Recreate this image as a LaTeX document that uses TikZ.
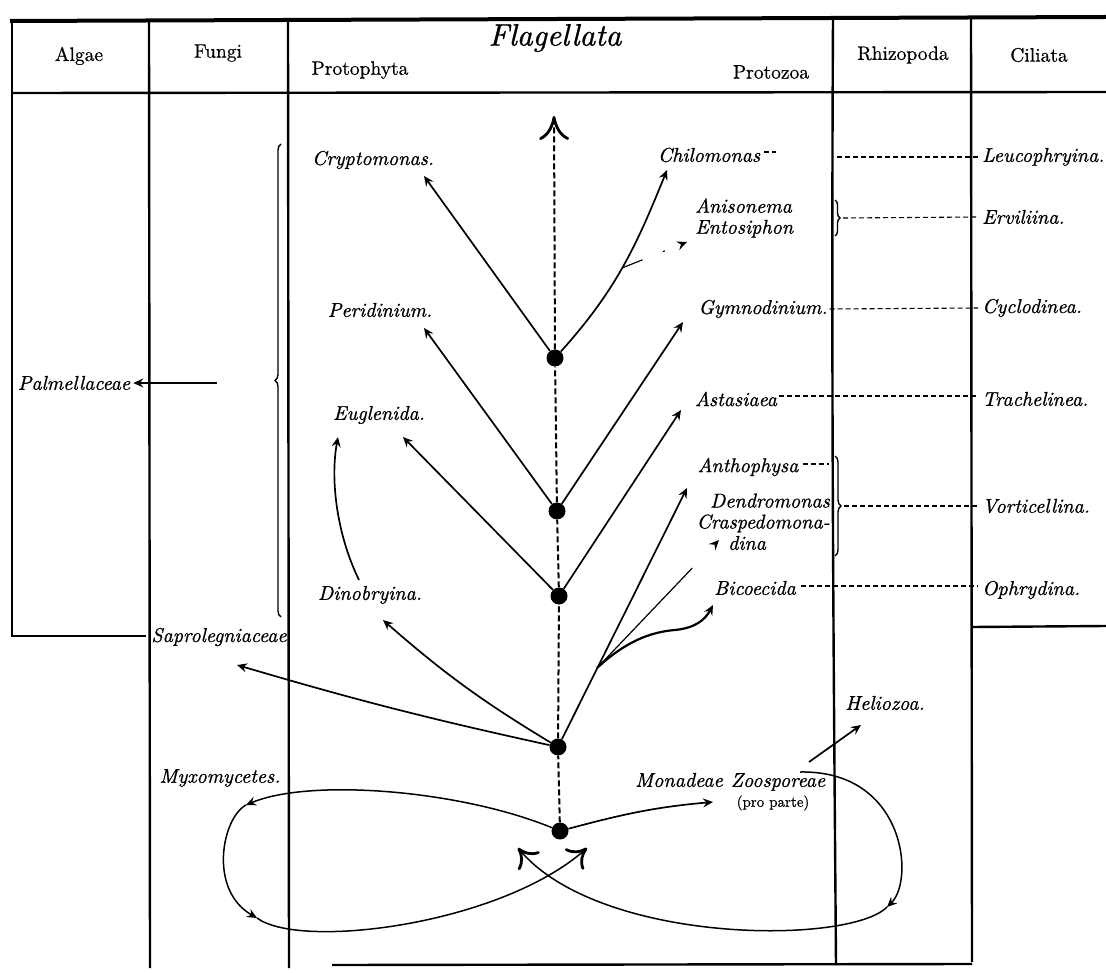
\documentclass[tikz,border=0pt]{standalone}
\usepackage{fontspec}
\setmainfont{lmroman10-regular.otf}[
  ItalicFont=lmroman10-italic.otf,
  BoldFont=lmroman10-bold.otf,
  UprightFeatures={FakeBold=0.6},
  ItalicFeatures={FakeBold=0.9}]
\usetikzlibrary{arrows.meta,decorations.pathreplacing}
\begin{document}
\begin{tikzpicture}[x=1pt,y=-1pt,
  lab/.style={font=\fontsize{20}{21}\selectfont\itshape, inner sep=0pt},
  head/.style={font=\fontsize{19.5}{21}\selectfont, inner sep=0pt},
  rule/.style={line width=2.4pt},
  tdot/.style={circle, fill=black, minimum size=17pt, inner sep=0pt},
  smalltip/.style={-{Stealth[length=10pt,width=9pt,inset=3.5pt]}},
  branch/.style={line width=1.7pt, smalltip},
  spine/.style={line width=2pt, dash pattern=on 6pt off 3pt},
  leader/.style={line width=1.1pt, dash pattern=on 5pt off 3pt},
  loopl/.style={line width=1.5pt},
  bigtip/.style={-{Computer Modern Rightarrow[length=24pt,width=30pt,line width=2.8pt]}},
  looptip/.style={-{Computer Modern Rightarrow[length=18pt,width=28pt,line width=2.8pt]}},
  brc/.style={decorate, decoration={brace, amplitude=6pt}, line width=1.4pt}
]
\fill[white] (0,0) rectangle (1106,973);
\useasboundingbox (0,0) rectangle (1106,973);

% ---------- table frame ----------
\draw[line width=4pt] (10,21) -- (1106,17);
\draw[rule] (12,93) -- (1106,92);
\draw[rule] (12,20) -- (12,637);
\draw[rule] (10.8,636) -- (146,636);
\draw[rule] (149,20) -- (150,968);
\draw[rule] (288,19) -- (289,968);
\draw[rule] (833,18) .. controls (831,400) and (834,700) .. (836,965);
\draw[rule] (971,17) -- (972,962);
\draw[rule] (972,627) -- (1106,626);
\draw[rule] (332,965) -- (972,964);

% ---------- header ----------
\node[head] (algae) at (79,56) {Algae};
\node[head] (fungi) at (218,53) {Fungi};
\node[font=\fontsize{31}{33}\selectfont\itshape, inner sep=0pt] (flag) at (555,38) {Flagellata};
\node[head] (protoph) at (360,70) {Protophyta};
\node[head] (protoz) at (771,72) {Protozoa};
\node[head] (rhizo) at (903,55) {Rhizopoda};
\node[head] (cil) at (1039,55) {Ciliata};

% ---------- labels ----------
\node[lab] (crypt) at (373,160) {Cryptomonas.};
\node[lab] (chil) at (709,155) {Chilomonas};
\node[lab, align=left, anchor=west] (anis) at (695,218) {Anisonema\\Entosiphon};
\node[lab] (peri) at (380,310) {Peridinium.};
\node[lab] (gymno) at (763,309) {Gymnodinium.};
\node[lab] (eugl) at (379,415) {Euglenida.};
\node[lab] (asta) at (736,399) {Astasiaea};
\node[lab] (antho) at (748,467) {Anthophysa};
\node[lab, align=right, anchor=east] (dendro) at (830,513) {Dendromonas\\Craspedomona-};
\node[lab] (dina) at (747,543) {dina};
\node[lab] (dino) at (370,595) {Dinobryina.};
\node[lab] (bico) at (755,588) {Bicoecida};
\node[lab] (palm) at (74,383) {Palmellaceae};
\node[lab] (sapro) at (219,637) {Saprolegniaceae};
\node[lab] (myxo) at (220,778) {Myxomycetes.};
\node[lab] (helio) at (885,703) {Heliozoa.};
\node[lab] (monad) at (679,780) {Monadeae};
\node[lab] (zoos) at (778,782) {Zoosporeae};
\node[font=\fontsize{15}{17}\selectfont, inner sep=0pt] (pro) at (773,803) {(pro parte)};

\node[lab, anchor=west] (leuco) at (982,157) {Leucophryina.};
\node[lab, anchor=west] (ervil) at (982,217) {Erviliina.};
\node[lab, anchor=west] (cyclo) at (982,308) {Cyclodinea.};
\node[lab, anchor=west] (trach) at (982,399) {Trachelinea.};
\node[lab, anchor=west] (vorti) at (982,506) {Vorticellina.};
\node[lab, anchor=west] (ophry) at (982,590) {Ophrydina.};

% ---------- leaders & braces ----------
\draw[leader] ([xshift=4pt,yshift=3pt]chil.east) -- ++(12,0);
\draw[leader] (837,157) -- ([xshift=-4pt]leuco.west);
\draw[brc, decoration={brace, amplitude=5pt}] (835,200) -- (835,236);
\draw[leader] (843,218) -- ([xshift=-4pt]ervil.west);
\draw[leader] ([xshift=2pt]gymno.east) -- ([xshift=-4pt]cyclo.west);
\draw[leader] ([xshift=2pt,yshift=3pt]asta.east) -- ([xshift=-4pt,yshift=3pt]trach.west);
\draw[leader] ([xshift=4pt,yshift=3pt]antho.east) -- ++(26,0);
\draw[brc] (835,456) -- (835,556);
\draw[leader] (844,506) -- ([xshift=-4pt]vorti.west);
\draw[leader] ([xshift=5pt,yshift=2pt]bico.east) -- ([xshift=-4pt,yshift=2pt]bico.east -| ophry.west);
\draw[brc] (281,617) -- (281,144);

% ---------- Palmellaceae arrow ----------
\coordinate (sPalm) at (217,383);
\draw[line width=1.4pt, smalltip] (sPalm) -- ([xshift=3pt]palm.east);

% ---------- spine ----------
\node[tdot] (d1) at (555,358) {};
\node[tdot] (d2) at (557,511) {};
\node[tdot] (d3) at (559,596) {};
\node[tdot] (d4) at (558,747) {};
\node[tdot] (d5) at (560,831) {};
\coordinate (top) at (554,116);
\draw[spine] (d5) -- (d4) -- (d3) -- (d2) -- (d1);
\draw[spine, bigtip] (d1) -- (top);

% ---------- branches ----------
\coordinate (tCrypt) at (424,176);
\coordinate (tChil) at (667,170);
\coordinate (bAnis) at (622,268);
\coordinate (tAnis) at (687,242);
\coordinate (tPeri) at (424,328);
\coordinate (tGymno) at (683,322);
\coordinate (tEugl) at (403,437);
\coordinate (tAsta) at (681,410);
\coordinate (sDE) at (359,580);
\coordinate (tDE) at (338,437);
\coordinate (tDino) at (383,620);
\coordinate (tSapro) at (237,665);
\coordinate (tAntho) at (687,488);
\coordinate (bp) at (597,668);
\coordinate (tDina) at (719,540);
\coordinate (tBico) at (713,605);
\coordinate (tMon) at (713,802);
\coordinate (sHel) at (809,762);
\coordinate (tHel) at (861,725);

\draw[branch] (d1) -- (tCrypt);
\draw[branch] (d1) to[out=48,in=-112] (tChil);
\draw[line width=1.2pt, dash pattern=on 22pt off 22pt on 2pt off 30pt, smalltip] (bAnis) -- (tAnis);
\draw[branch] (d2) -- (tPeri);
\draw[branch] (d2) -- (tGymno);
\draw[branch] (d3) -- (tEugl);
\draw[branch] (d3) -- (tAsta);
\draw[branch] (sDE) .. controls (337,535) and (330,480) .. (tDE);
\draw[branch] (d4) to[bend left=5] (tDino);
\draw[branch] (d4) to[bend left=2] (tSapro);
\draw[branch] (d4) -- (tAntho);
\draw[line width=1.2pt, dash pattern=on 138pt off 40pt, smalltip] (bp) -- (tDina);
\draw[line width=2.2pt, smalltip] (bp) .. controls (625,642) and (650,632) .. (675,630) .. controls (695,628) and (705,620) .. (tBico);
\draw[branch] (d5) to[out=15,in=185] (tMon);
\draw[branch] (sHel) -- (tHel);

% ---------- loops ----------
\coordinate (lA) at (246,805);
\coordinate (lB) at (257,918);
\coordinate (lC) at (587,848);
\coordinate (rS) at (800,772);
\coordinate (rA) at (887,907);
\coordinate (rC) at (518,848);
\draw[loopl, smalltip] (d5) .. controls (460,790) and (310,778) .. (lA);
\draw[loopl, smalltip] (lA) .. controls (222,818) and (208,890) .. (lB);
\draw[loopl, looptip] (lB) .. controls (300,950) and (500,925) .. (lC);
\draw[loopl, smalltip] (rS) .. controls (905,770) and (915,880) .. (rA);
\draw[loopl, looptip] (rA) .. controls (850,945) and (600,945) .. (rC);
\end{tikzpicture}
\end{document}
